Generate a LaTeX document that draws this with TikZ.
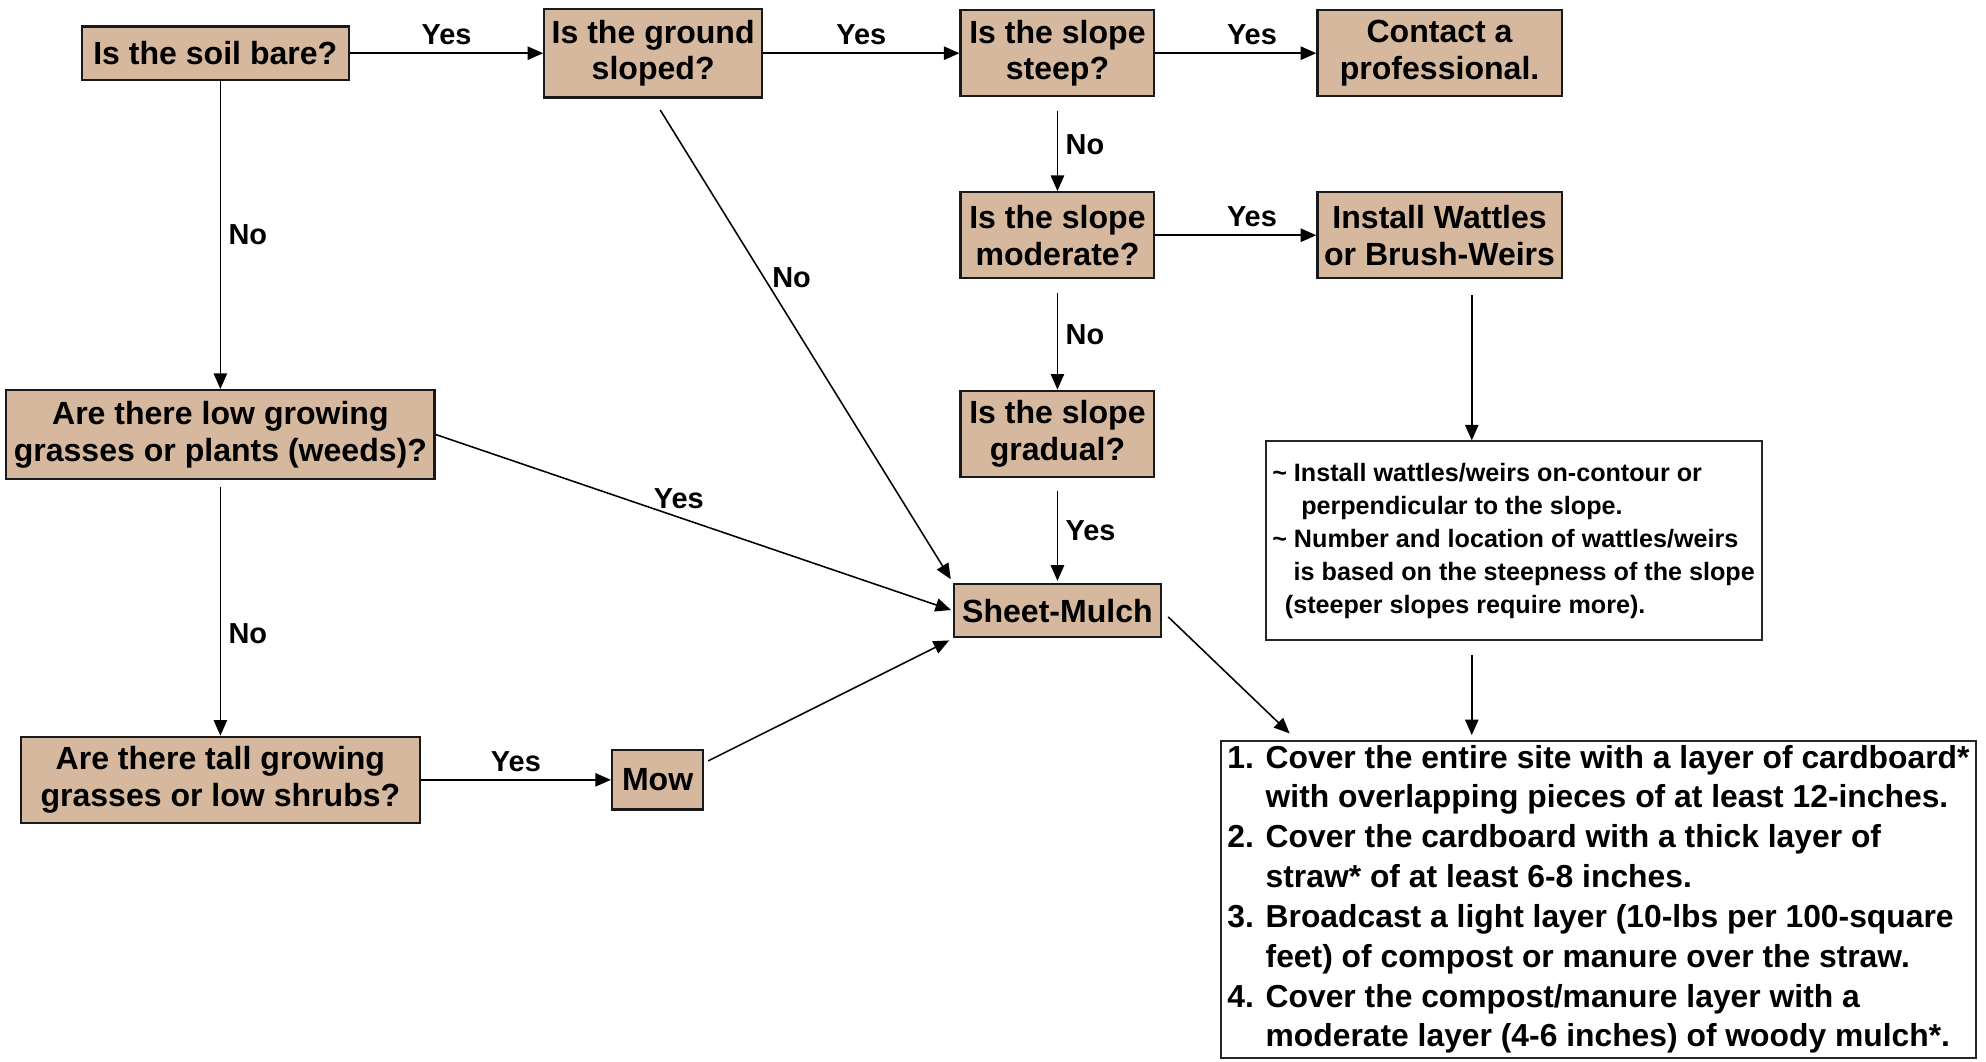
\documentclass[tikz,border=0pt]{standalone}
\usepackage{fontspec}
\setmainfont{Liberation Sans}
\usepackage{xcolor}
\usetikzlibrary{positioning, calc, arrows.meta}
\definecolor{soiltan}{HTML}{D5B89D}

\begin{document}
\begin{tikzpicture}[x=0.02cm, y=-0.02cm,
    quest/.style={rectangle, draw=black!90, line width=1pt, fill=soiltan, align=center, inner sep=1pt,
      font=\bfseries\fontsize{14.4}{16.5}\selectfont},
    notebox/.style={rectangle, draw=black!85, line width=0.9pt, fill=white, align=left, inner sep=3pt},
    mylabel/.style={font=\bfseries\fontsize{13}{13}\selectfont},
    every path/.style={line width=0.7pt},
    >={Triangle[length=7pt, width=6pt]}
    ]
\useasboundingbox (0,0) rectangle (1568,838);

% top row
\node[quest, minimum width=4.22cm, minimum height=0.84cm] (soil) at (170,42) {Is the soil bare?};
\node[quest, minimum width=3.44cm, minimum height=1.4cm, right=3.05cm of soil] (ground) {Is the ground\\sloped?};
\node[quest, minimum width=3.06cm, minimum height=1.36cm, right=3.1cm of ground] (steep) {Is the slope\\steep?};
\node[quest, minimum width=3.86cm, minimum height=1.36cm, right=2.54cm of steep] (prof) {Contact a\\professional.};

% slope column
\node[quest, minimum width=3.06cm, minimum height=1.36cm, below=1.48cm of steep] (moderate) {Is the slope\\moderate?};
\node[quest, minimum width=3.86cm, minimum height=1.36cm, below=1.48cm of prof] (wattles) {Install Wattles\\or Brush-Weirs};
\node[quest, minimum width=3.06cm, minimum height=1.36cm, below=1.74cm of moderate] (gradual) {Is the slope\\gradual?};
\node[quest, minimum width=3.26cm, minimum height=0.84cm, below=1.66cm of gradual] (sheet) {Sheet-Mulch};

% left column
\node[quest, minimum width=6.76cm, minimum height=1.4cm] (low) at (174,343) {Are there low growing\\grasses or plants (weeds)?};
\node[quest, minimum width=6.3cm, minimum height=1.36cm, below=4.04cm of low] (tall) {Are there tall growing\\grasses or low shrubs?};
\node[quest, minimum width=1.44cm, minimum height=0.94cm, right=3.0cm of tall] (mow) {Mow};

% white boxes
\node[notebox, minimum width=7.7cm, minimum height=3.14cm, font=\bfseries\fontsize{11.3}{14.8}\selectfont] (note) at (1195,427) {%
\textasciitilde\ Install wattles/weirs on-contour or\\
\hspace*{1.15em}perpendicular to the slope.\\
\textasciitilde\ Number and location of wattles/weirs\\
\hspace*{0.85em}is based on the steepness of the slope\\
\hspace*{0.5em}(steeper slopes require more).};
\node[notebox, minimum width=11.92cm, minimum height=4.92cm, inner sep=2pt, font=\bfseries\fontsize{14.3}{17.9}\selectfont] (steps) at (1262,710) {%
1. Cover the entire site with a layer of cardboard*\\
\phantom{1. }with overlapping pieces of at least 12-inches.\\
2. Cover the cardboard with a thick layer of\\
\phantom{2. }straw* of at least 6-8 inches.\\
3. Broadcast a light layer (10-lbs per 100-square\\
\phantom{3. }feet) of compost or manure over the straw.\\
4. Cover the compost/manure layer with a\\
\phantom{4. }moderate layer (4-6 inches) of woody mulch*.};

\coordinate (vx) at (1162,0);

% connectors
\draw[->] (soil) -- node[mylabel, above]{Yes} (ground);
\draw[->] (ground) -- node[mylabel, above]{Yes} (steep);
\draw[->] (steep) -- node[mylabel, above, pos=0.6]{Yes} (prof);
\draw[->, shorten <=6pt] (steep) -- node[mylabel, right]{No} (moderate);
\draw[->] (moderate) -- node[mylabel, above, pos=0.6]{Yes} (wattles);
\draw[->, shorten <=6pt] (moderate) -- node[mylabel, right]{No} (gradual);
\draw[->, shorten <=6pt, shorten >=1pt] (gradual) -- node[mylabel, right]{Yes} (sheet);
\draw[->] (soil.south -| low.north) -- node[mylabel, right]{No} (low.north);
\draw[->, shorten <=6pt, shorten >=2pt] (ground.south) -- node[mylabel, right, pos=0.37]{No} (sheet.north west);
\draw[->, shorten >=1pt] (low.east) -- node[mylabel, above, pos=0.47]{Yes} (sheet.west);
\draw[->, shorten <=3pt] (low.south) -- node[mylabel, right, pos=0.6]{No} (tall.north);
\draw[->] (tall) -- node[mylabel, above]{Yes} (mow);
\draw[->, shorten <=2pt, shorten >=2pt] (mow.20) -- (sheet.south west);
\draw[->, shorten <=4pt, shorten >=4pt] (sheet.east) -- ($(steps.north west)+(60,0)$);
\draw[->, shorten <=7pt] (wattles.south -| vx) -- (note.north -| vx);
\draw[->, shorten <=6pt, shorten >=2pt] (note.south -| vx) -- (steps.north -| vx);
\end{tikzpicture}
\end{document}
